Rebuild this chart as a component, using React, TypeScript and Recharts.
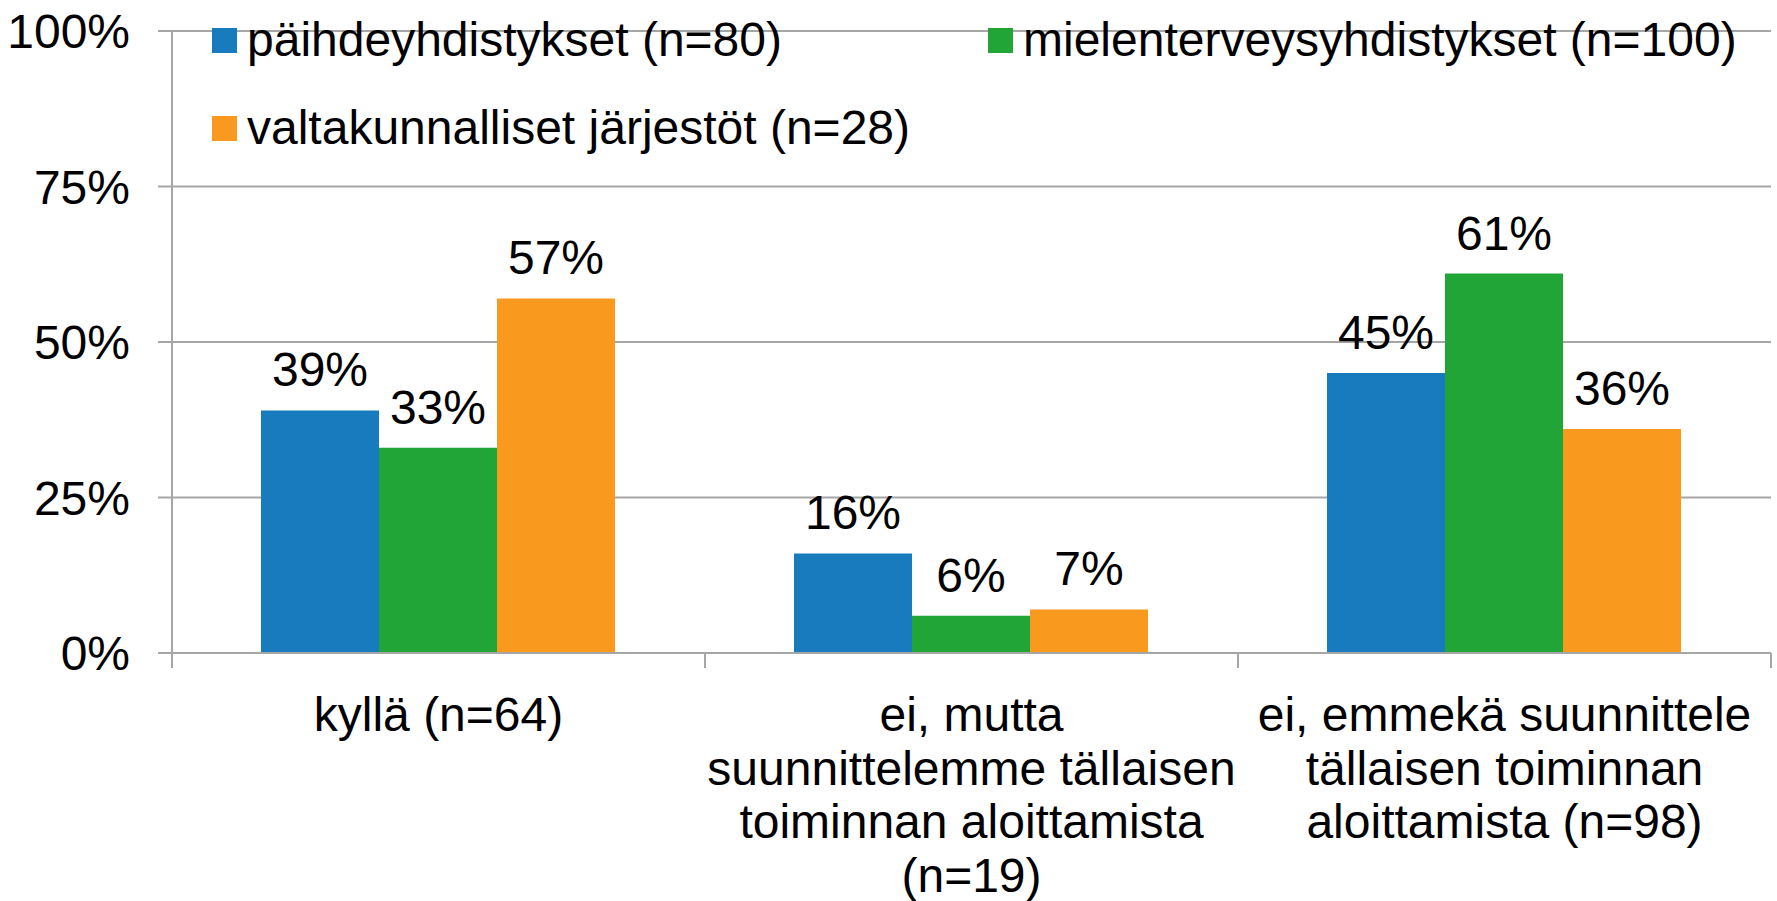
import React from 'react';
import { BarChart, Bar, XAxis, YAxis, CartesianGrid, Legend, LabelList } from 'recharts';

const categories = [
  'kyllä (n=64)',
  'ei, mutta suunnittelemme tällaisen toiminnan aloittamista (n=19)',
  'ei, emmekä suunnittele tällaisen toiminnan aloittamista (n=98)',
];
const categoryLines = [
  ['kyllä (n=64)'],
  ['ei, mutta', 'suunnittelemme tällaisen', 'toiminnan aloittamista', '(n=19)'],
  ['ei, emmekä suunnittele', 'tällaisen toiminnan', 'aloittamista (n=98)'],
];
const seriesKeys = ['paihde', 'mielenterveys', 'valtakunnalliset'];
const seriesNames = [
  'päihdeyhdistykset (n=80)',
  'mielenterveysyhdistykset (n=100)',
  'valtakunnalliset järjestöt (n=28)',
];
const seriesColors = ['#187BBE', '#21A536', '#F99A1F'];
const paihde = [39, 16, 45];
const mielenterveys = [33, 6, 61];
const valtakunnalliset = [57, 7, 36];
const yTicks = [0, 25, 50, 75, 100];

const seriesValues = [paihde, mielenterveys, valtakunnalliset];
const data = categories.map((c, i) => {
  const row: Record<string, any> = { category: c };
  seriesKeys.forEach((k, s) => {
    row[k] = seriesValues[s][i];
  });
  return row;
});

const FONT = '"Liberation Sans", Arial, sans-serif';
const GRID = '#A6A6A6';
const FS = 48;

const XTick = (props: any) => {
  const { x, y, index, visibleTicksCount, width } = props;
  const band = width / visibleTicksCount;
  const lines = categoryLines[index] || [];
  return (
    <g>
      <line x1={x - band / 2} x2={x - band / 2} y1={y} y2={y + 15} stroke={GRID} strokeWidth={2} />
      {index === visibleTicksCount - 1 && (
        <line x1={x + band / 2} x2={x + band / 2} y1={y} y2={y + 15} stroke={GRID} strokeWidth={2} />
      )}
      {lines.map((ln, i) => (
        <text
          key={i}
          x={x}
          y={y + 78 + i * 53.5}
          textAnchor="middle"
          fontSize={FS}
          fontFamily={FONT}
          fill="#000"
        >
          {ln}
        </text>
      ))}
    </g>
  );
};

const renderLegend = () => {
  return (
    <div style={{ position: 'relative', width: 1777, height: 160 }}>
      {seriesNames.map((name, i) => (
        <div
          key={name}
          style={{
            position: 'absolute',
            left: 212 + (i % 2) * 776,
            top: 16 + Math.floor(i / 2) * 88,
            display: 'flex',
            alignItems: 'flex-start',
            height: 48,
            lineHeight: '48px',
            fontSize: FS,
            fontFamily: FONT,
            color: '#000',
            whiteSpace: 'nowrap',
          }}
        >
          <span
            style={{
              display: 'inline-block',
              width: 25,
              height: 25,
              marginTop: 12,
              marginRight: 10,
              background: seriesColors[i],
            }}
          />
          <span>{name}</span>
        </div>
      ))}
    </div>
  );
};

export default function App() {
  return (
    <div style={{ position: 'absolute', left: 0, top: 0, width: 1777, height: 901, background: '#fff' }}>
      <BarChart
        width={1777}
        height={901}
        data={data}
        margin={{ top: 31, right: 6, left: 0, bottom: 0 }}
        barCategoryGap="16.7%"
        barGap={0}
      >
        <CartesianGrid horizontal vertical={false} stroke={GRID} strokeWidth={2} />
        <XAxis
          dataKey="category"
          height={248}
          interval={0}
          tickLine={false}
          tickSize={0}
          tickMargin={0}
          axisLine={{ stroke: GRID, strokeWidth: 2 }}
          tick={<XTick />}
        />
        <YAxis
          width={172}
          domain={[0, 100]}
          ticks={yTicks}
          interval={0}
          tickFormatter={(v: number) => `${v}%`}
          tickSize={14}
          tickMargin={28}
          tickLine={{ stroke: GRID, strokeWidth: 2 }}
          axisLine={{ stroke: GRID, strokeWidth: 2 }}
          tick={{ fontSize: FS, fontFamily: FONT, fill: '#000' }}
        />
        <Legend
          layout="horizontal"
          verticalAlign="middle"
          align="center"
          wrapperStyle={{ top: 0, left: 0, width: 1777, height: 160 }}
          content={renderLegend}
        />
        {seriesKeys.map((k, s) => (
          <Bar key={k} dataKey={k} name={seriesNames[s]} fill={seriesColors[s]} isAnimationActive={false}>
            <LabelList
              dataKey={k}
              position="top"
              offset={24}
              formatter={(v: any) => `${v}%`}
              style={{ fontSize: FS, fontFamily: FONT, fill: '#000' }}
            />
          </Bar>
        ))}
      </BarChart>
    </div>
  );
}
